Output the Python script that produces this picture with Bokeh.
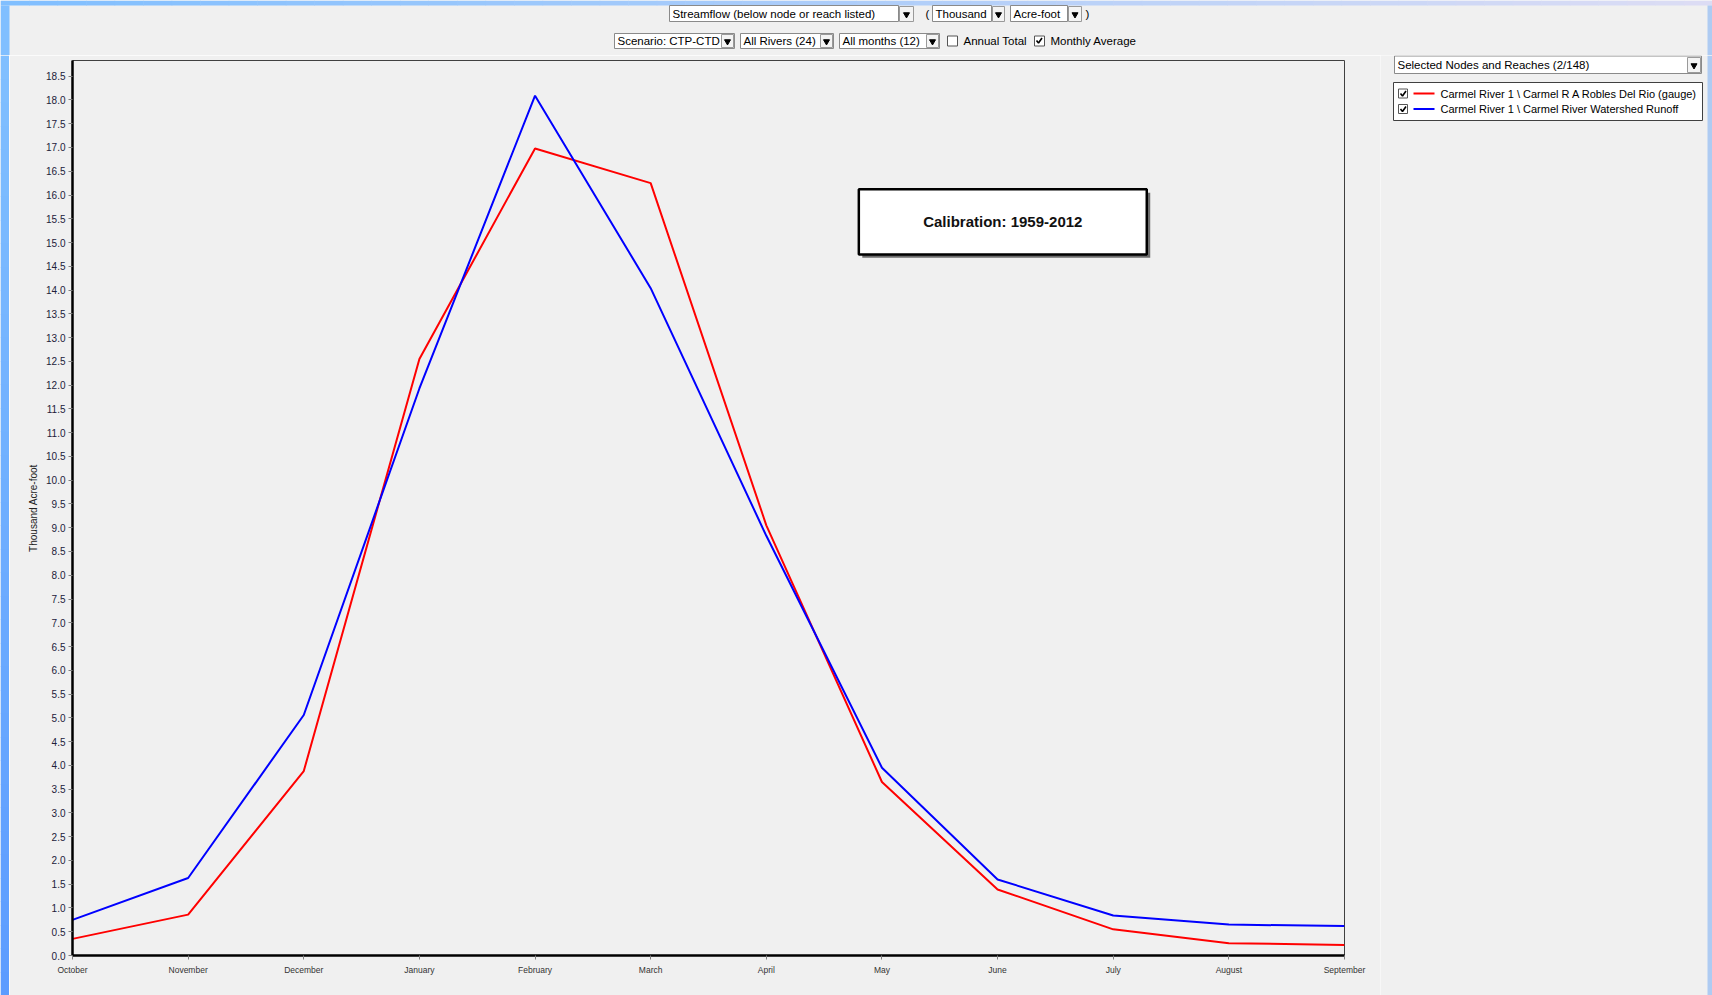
from bokeh.plotting import figure
from bokeh.models import (Range1d, FixedTicker, NumeralTickFormatter, BoxAnnotation,
                          Label, ColumnDataSource)
from bokeh.layouts import column, row
from bokeh.embed import file_html
from bokeh.resources import INLINE
from bokeh.core.properties import value

# ---------------- data ----------------
months = ["October", "November", "December", "January", "February", "March",
          "April", "May", "June", "July", "August", "September"]
gauge = [0.35, 0.86, 3.88, 12.55, 16.98, 16.25, 9.05, 3.65, 1.39, 0.55, 0.26, 0.22]
runoff = [0.75, 1.63, 5.06, 11.93, 18.09, 14.04, 8.83, 3.95, 1.60, 0.84, 0.65, 0.62]
series_names = ["Carmel River  1 \\ Carmel R A Robles Del Rio (gauge)",
                "Carmel River  1 \\ Carmel River Watershed Runoff"]
series_colors = ["#ff0000", "#0000ff"]
y_ticks = [0.0, 0.5, 1.0, 1.5, 2.0, 2.5, 3.0, 3.5, 4.0, 4.5, 5.0, 5.5, 6.0, 6.5,
           7.0, 7.5, 8.0, 8.5, 9.0, 9.5, 10.0, 10.5, 11.0, 11.5, 12.0, 12.5, 13.0,
           13.5, 14.0, 14.5, 15.0, 15.5, 16.0, 16.5, 17.0, 17.5, 18.0, 18.5]
y_max = 18.83
y_label = "Thousand Acre-foot"
annotation_text = "Calibration: 1959-2012"

BG = "#f0f0f0"
UIFONT = "Liberation Sans"


def mix(c1, c2, t):
    a = [int(c1[i:i + 2], 16) for i in (1, 3, 5)]
    b = [int(c2[i:i + 2], 16) for i in (1, 3, 5)]
    return "#%02x%02x%02x" % tuple(int(round(a[k] + (b[k] - a[k]) * t)) for k in range(3))


def ui_fig(width, height, x0, y0):
    f = figure(width=width, height=height,
               x_range=Range1d(x0, x0 + width), y_range=Range1d(y0 + height, y0),
               min_border=0, min_border_left=0, min_border_right=0,
               min_border_top=0, min_border_bottom=0, frame_align=False,
               toolbar_location=None, output_backend="svg",
               x_axis_location=None, y_axis_location=None,
               background_fill_color=BG, border_fill_color=BG, outline_line_color=None)
    f.grid.visible = False
    return f


def draw_boxes(f, boxes, fill, line, lw=1):
    if not boxes:
        return
    f.quad(left=[b[0] for b in boxes], right=[b[1] for b in boxes],
           top=[b[2] for b in boxes], bottom=[b[3] for b in boxes],
           fill_color=fill, line_color=line, line_width=lw)


def draw_arrows(f, arrows):
    draw_boxes(f, arrows, "#f4f4f4", "#9a9a9a")
    f.scatter(x=[(a[0] + a[1]) / 2 for a in arrows], y=[(a[2] + a[3]) / 2 + 0.5 for a in arrows],
              marker="inverted_triangle", size=6, fill_color="black", line_color="black")


def draw_texts(f, texts, size="11.5px", color="black"):
    f.text(x=[t[0] for t in texts], y=[t[1] for t in texts], text=[t[2] for t in texts],
           text_font=value(UIFONT), text_font_size=size, text_color=color,
           text_baseline="middle", text_align="left")


def draw_checks(f, boxes):
    xs, ys = [], []
    for b in boxes:
        x0, y0 = b[0], b[2]
        xs.append([x0 + 2, x0 + 4, x0 + 7.5])
        ys.append([y0 + 4.5, y0 + 7, y0 + 2])
    f.multi_line(xs=xs, ys=ys, line_color="black", line_width=1.6)


# ---------------- top strip with controls ----------------
top = ui_fig(1712, 55, 0, 0)
n = 60
top.quad(left=[1712 * i / n for i in range(n)], right=[1712 * (i + 1) / n + 0.5 for i in range(n)],
         top=[0] * n, bottom=[5] * n,
         fill_color=[mix("#80bfff", "#dcdcf4", i / (n - 1)) for i in range(n)], line_color=None)
top.quad(left=[0], right=[9], top=[5], bottom=[55], fill_color="#80bfff", line_color=None)
top.quad(left=[1707], right=[1712], top=[5], bottom=[55], fill_color="#aecbf2", line_color=None)

r1 = (5, 21)
r2 = (33, 48)
draw_boxes(top, [(669, 898, r1[0], r1[1]), (932, 991, r1[0], r1[1]), (1010, 1067, r1[0], r1[1]),
                 (614, 734, r2[0], r2[1]), (740, 833, r2[0], r2[1]), (839, 939, r2[0], r2[1])],
           "white", "#8a8a8a")
draw_arrows(top, [(899, 913, r1[0] + 1, r1[1]), (992, 1004, r1[0] + 1, r1[1]), (1068, 1081, r1[0] + 1, r1[1]),
                  (721, 733, r2[0] + 1, r2[1] - 1), (820, 832, r2[0] + 1, r2[1] - 1), (926, 938, r2[0] + 1, r2[1] - 1)])
cb_top = [(947, 957, 35.5, 45.5), (1034, 1044, 35.5, 45.5)]
draw_boxes(top, cb_top, "white", "#555555")
draw_checks(top, cb_top[1:])
draw_texts(top, [(672, 13, "Streamflow (below node or reach listed)"), (925, 13, "("),
                 (935, 13, "Thousand"), (1013, 13, "Acre-foot"), (1085, 13, ")"),
                 (617, 40.5, "Scenario: CTP-CTD"), (743, 40.5, "All Rivers (24)"),
                 (842, 40.5, "All months (12)"), (963, 40.5, "Annual Total"),
                 (1050, 40.5, "Monthly Average")])

# ---------------- left blue strip ----------------
left = ui_fig(9, 940, 0, 55)
m = 40
left.quad(left=[0] * m, right=[9] * m,
          top=[55 + 940 * i / m for i in range(m)], bottom=[55 + 940 * (i + 1) / m + 0.5 for i in range(m)],
          fill_color=[mix("#80bfff", "#5c9cff", i / (m - 1)) for i in range(m)], line_color=None)

# ---------------- main chart ----------------
p = figure(width=1371, height=940, x_range=Range1d(0, len(months) - 1), y_range=Range1d(0, y_max),
           output_backend="svg", toolbar_location=None, frame_align=False,
           min_border_left=63, min_border_right=36, min_border_top=5, min_border_bottom=40,
           background_fill_color=BG, border_fill_color=BG,
           outline_line_color="#404040", outline_line_width=1)
p.grid.visible = False

src = ColumnDataSource(dict(x=list(range(len(months))), gauge=gauge, runoff=runoff))
p.line("x", "gauge", source=src, line_color=series_colors[0], line_width=2)
p.line("x", "runoff", source=src, line_color=series_colors[1], line_width=2)

p.xaxis.ticker = FixedTicker(ticks=list(range(len(months))))
p.xaxis.major_label_overrides = {i: mo for i, mo in enumerate(months)}
p.yaxis.ticker = FixedTicker(ticks=y_ticks)
p.yaxis.formatter = NumeralTickFormatter(format="0.0")
p.yaxis.axis_label = y_label

p.axis.axis_line_color = "black"
p.axis.axis_line_width = 2.5
p.axis.major_tick_line_color = "#808080"
p.axis.major_tick_out = 4
p.axis.major_tick_in = 0
p.axis.minor_tick_line_color = None
p.axis.major_label_text_font = UIFONT
p.xaxis.major_label_text_font_size = "8.5px"
p.xaxis.major_label_text_color = "#333333"
p.xaxis.major_label_standoff = 5
p.yaxis.major_label_text_font_size = "10px"
p.yaxis.major_label_text_color = "#22203a"
p.yaxis.major_label_standoff = 3
p.yaxis.axis_label_text_font = UIFONT
p.yaxis.axis_label_text_font_size = "10px"
p.yaxis.axis_label_text_font_style = "normal"
p.yaxis.axis_label_text_color = "#222222"
p.yaxis.axis_label_standoff = 4

# calibration note box (layout positions in chart units)
cal_left, cal_right, cal_top, cal_bottom = 6.80, 9.29, 16.12, 14.75
p.add_layout(BoxAnnotation(left=cal_left + 0.03, right=cal_right + 0.03,
                           top=cal_top - 0.07, bottom=cal_bottom - 0.07,
                           fill_color="#555555", fill_alpha=0.85, line_color=None))
p.add_layout(BoxAnnotation(left=cal_left, right=cal_right, top=cal_top, bottom=cal_bottom,
                           fill_color="white", fill_alpha=1.0,
                           line_color="black", line_alpha=1.0, line_width=2.5))
p.add_layout(Label(x=(cal_left + cal_right) / 2, y=(cal_top + cal_bottom) / 2, text=annotation_text,
                   text_align="center", text_baseline="middle", text_font=UIFONT,
                   text_font_size="15px", text_font_style="bold", text_color="#111111"))

# ---------------- right panel: selector + legend ----------------
right = ui_fig(332, 940, 1380, 55)
draw_boxes(right, [(1394, 1701, 55.5, 73)], "white", "#8a8a8a")
draw_arrows(right, [(1687, 1700, 57, 72)])
draw_texts(right, [(1397, 64, "Selected Nodes and Reaches (2/148)")])
draw_boxes(right, [(1393, 1702, 82, 120)], "white", "#404040")
leg_y = [93, 108.5]
cb_r = [(1398, 1407, y - 4.5, y + 4.5) for y in leg_y]
draw_boxes(right, cb_r, "white", "#555555")
draw_checks(right, cb_r)
right.multi_line(xs=[[1413, 1434] for _ in leg_y], ys=[[y, y] for y in leg_y],
                 line_color=series_colors, line_width=2)
draw_texts(right, [(1440, y, nm) for y, nm in zip(leg_y, series_names)], size="11px")
right.quad(left=[1707], right=[1712], top=[55], bottom=[995], fill_color="#aecbf2", line_color=None)

layout = column(top, row(left, p, right))
open("out.html", "w").write(file_html(layout, INLINE))
